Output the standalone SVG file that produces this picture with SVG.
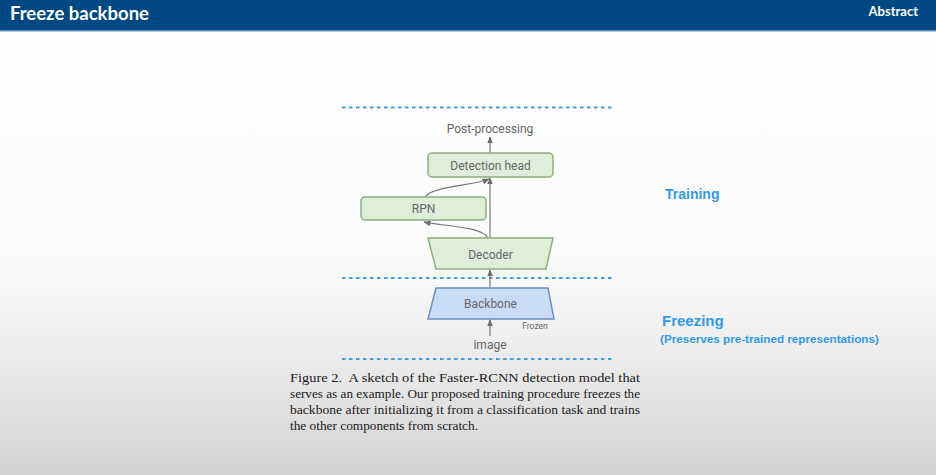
<svg xmlns="http://www.w3.org/2000/svg" width="936" height="475" viewBox="0 0 936 475">
<defs>
<linearGradient id="bg" x1="0" y1="0" x2="0" y2="1">
<stop offset="0" stop-color="#ffffff"/>
<stop offset="0.55" stop-color="#fbfbfb"/>
<stop offset="0.75" stop-color="#ececec"/>
<stop offset="1" stop-color="#d3d3d3"/>
</linearGradient>
<marker id="ah" viewBox="0 0 10 10" refX="9" refY="5" markerWidth="6" markerHeight="6" orient="auto">
<path d="M0,1 L10,5 L0,9 z" fill="#6b6b6b"/>
</marker>
<style>
.dash{stroke:#3a9fe6;stroke-width:2.2;stroke-dasharray:3.5,3.5;fill:none}
.lbl{font-family:Roboto,"Liberation Sans",sans-serif;fill:#666;text-anchor:middle}
.green{fill:#dfeed8;stroke:#8fac80;stroke-width:1.5}
.blue{fill:#c9dcf6;stroke:#6e8fc4;stroke-width:1.5}
.conn{stroke:#777;stroke-width:1.2;fill:none;marker-end:url(#ah)}
.side{font-family:"Liberation Sans",Arial,sans-serif;font-weight:bold;fill:#2f9be6}
.cap{font-family:"Liberation Serif","Times New Roman",serif;font-size:13.2px;fill:#1a1a1a}
</style>
</defs>
<rect x="0" y="0" width="936" height="475" fill="url(#bg)"/>
<rect x="0" y="0" width="936" height="30" fill="#004883"/>
<rect x="0" y="30" width="936" height="1.5" fill="#5c8dbb"/>
<text x="10" y="20" font-family="Lato,'Open Sans',sans-serif" font-weight="bold" font-size="18.5" fill="#ffffff">Freeze backbone</text>
<text x="918" y="16" font-family="Lato,'Open Sans',sans-serif" font-weight="bold" font-size="13" fill="#ffffff" text-anchor="end">Abstract</text>

<line class="dash" x1="342" y1="107.5" x2="615" y2="107.5"/>
<line class="dash" x1="342" y1="278" x2="615" y2="278"/>
<line class="dash" x1="342" y1="359" x2="615" y2="359"/>

<g id="connectors">
<line class="conn" x1="490" y1="153" x2="490" y2="137"/>
<line class="conn" x1="490" y1="238" x2="490" y2="178"/>
<path class="conn" d="M488,238 C482,226 440,226 424,222"/>
<path class="conn" d="M425,197 C432,186 472,186 489,179"/>
<line class="conn" x1="490" y1="288" x2="490" y2="270"/>
<line class="conn" x1="490" y1="336" x2="490" y2="320"/>
</g>

<g id="post-processing"><text class="lbl" x="490" y="133" font-size="12">Post-processing</text></g>
<g id="detection-head">
<rect class="green" x="428" y="153" width="125" height="24" rx="4"/>
<text class="lbl" x="490.5" y="169.5" font-size="12">Detection head</text>
</g>
<g id="rpn">
<rect class="green" x="361" y="197" width="125" height="23" rx="4"/>
<text class="lbl" x="423.5" y="213" font-size="12">RPN</text>
</g>
<g id="decoder">
<polygon class="green" points="428,238 553,238 546,269 436,269"/>
<text class="lbl" x="490.5" y="258.5" font-size="12">Decoder</text>
</g>
<g id="backbone">
<polygon class="blue" points="436,288 548,288 554,319 428,319"/>
<text class="lbl" x="490.5" y="308" font-size="12">Backbone</text>
<text class="lbl" x="535" y="329" font-size="8.5">Frozen</text>
</g>
<g id="image"><text class="lbl" x="490" y="349" font-size="12">image</text></g>

<g id="side-labels">
<text class="side" x="665" y="199" font-size="14">Training</text>
<text class="side" x="662" y="326" font-size="15">Freezing</text>
<text class="side" x="660" y="343" font-size="11.7">(Preserves pre-trained representations)</text>
</g>

<g id="caption">
<text class="cap" x="290" y="382" textLength="350" lengthAdjust="spacingAndGlyphs">Figure 2.&#160; A sketch of the Faster-RCNN detection model that</text>
<text class="cap" x="290" y="398" textLength="350" lengthAdjust="spacingAndGlyphs">serves as an example. Our proposed training procedure freezes the</text>
<text class="cap" x="290" y="414" textLength="350" lengthAdjust="spacingAndGlyphs">backbone after initializing it from a classification task and trains</text>
<text class="cap" x="290" y="430" textLength="188" lengthAdjust="spacingAndGlyphs">the other components from scratch.</text>
</g>
</svg>
